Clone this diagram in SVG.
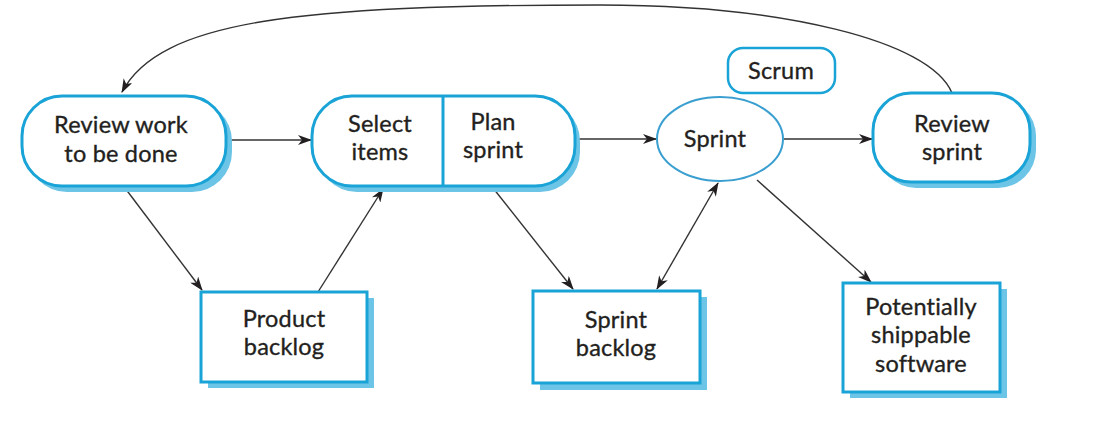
<svg xmlns="http://www.w3.org/2000/svg" width="1116" height="438" viewBox="0 0 1116 438">
<defs>
<style>
.box{fill:#ffffff;stroke:#1aa3d6;stroke-width:3}
.shadow{fill:#6cc4e6}
.t{font-family:Lato,"Open Sans",sans-serif;font-size:23.5px;letter-spacing:0.2px;font-variant-ligatures:none;font-feature-settings:"liga" 0,"dlig" 0;fill:#231f20;stroke:#231f20;stroke-width:0.35;text-anchor:middle}
.c{fill:none;stroke:#333333;stroke-width:1.4}
</style>
<marker id="ah" viewBox="0 0 14 10" refX="13" refY="5" markerWidth="14" markerHeight="10" markerUnits="userSpaceOnUse" orient="auto-start-reverse">
<path d="M0,0 L14,5 L0,10 L4,5 Z" fill="#231f20"/>
</marker>
</defs>
<rect width="1116" height="438" fill="#ffffff"/>

<g id="connectors">
<path class="c" d="M952,93 C930,40 780,5 600,5 C300,5 160,20 122,92" marker-end="url(#ah)"/>
<line class="c" x1="227" y1="140" x2="311" y2="140" marker-end="url(#ah)"/>
<line class="c" x1="577" y1="139" x2="656" y2="139" marker-end="url(#ah)"/>
<line class="c" x1="784" y1="139" x2="872" y2="139" marker-end="url(#ah)"/>
<line class="c" x1="125" y1="188" x2="202" y2="290" marker-end="url(#ah)"/>
<line class="c" x1="318" y1="292" x2="383" y2="189" marker-end="url(#ah)"/>
<line class="c" x1="493" y1="188" x2="573" y2="289" marker-end="url(#ah)"/>
<line class="c" x1="657" y1="289" x2="718" y2="183" marker-start="url(#ah)" marker-end="url(#ah)"/>
<line class="c" x1="757" y1="180" x2="871" y2="282" marker-end="url(#ah)"/>
</g>

<g id="review-work">
<rect class="shadow" x="27" y="101" width="205" height="91" rx="40"/>
<rect class="box" x="22" y="96" width="204" height="90" rx="40"/>
<text class="t" x="121" y="133">Review work</text>
<text class="t" x="121" y="162">to be done</text>
</g>

<g id="select-plan">
<rect class="shadow" x="317" y="101" width="263" height="91" rx="40"/>
<rect class="box" x="312" y="96" width="263" height="90" rx="40"/>
<line x1="443" y1="96" x2="443" y2="186" stroke="#1aa3d6" stroke-width="3"/>
<text class="t" x="380" y="132">Select</text>
<text class="t" x="380" y="160">items</text>
<text class="t" x="493" y="130">Plan</text>
<text class="t" x="493" y="158">sprint</text>
</g>

<g id="sprint">
<ellipse cx="720" cy="139" rx="63" ry="42" fill="#ffffff" stroke="#3a9fd0" stroke-width="2"/>
<text class="t" x="715" y="147">Sprint</text>
</g>

<g id="scrum">
<rect x="728" y="48" width="107" height="45" rx="15" fill="#ffffff" stroke="#1aa3d6" stroke-width="2.5"/>
<text class="t" x="781" y="79">Scrum</text>
</g>

<g id="review-sprint">
<rect class="shadow" x="878" y="98" width="158" height="90" rx="38"/>
<rect class="box" x="873" y="93" width="157" height="89" rx="38"/>
<text class="t" x="952" y="132">Review</text>
<text class="t" x="952" y="160">sprint</text>
</g>

<g id="product-backlog">
<rect class="shadow" x="208" y="298" width="166" height="90"/>
<rect class="box" x="201" y="292" width="166" height="90"/>
<text class="t" x="284" y="327">Product</text>
<text class="t" x="284" y="355">backlog</text>
</g>

<g id="sprint-backlog">
<rect class="shadow" x="540" y="297" width="167" height="93"/>
<rect class="box" x="533" y="291" width="167" height="92"/>
<text class="t" x="616" y="328">Sprint</text>
<text class="t" x="616" y="356">backlog</text>
</g>

<g id="shippable">
<rect class="shadow" x="850" y="289" width="157" height="109"/>
<rect class="box" x="843" y="283" width="157" height="109"/>
<text class="t" x="921" y="315">Potentially</text>
<text class="t" x="921" y="343">shippable</text>
<text class="t" x="921" y="372">software</text>
</g>
</svg>
